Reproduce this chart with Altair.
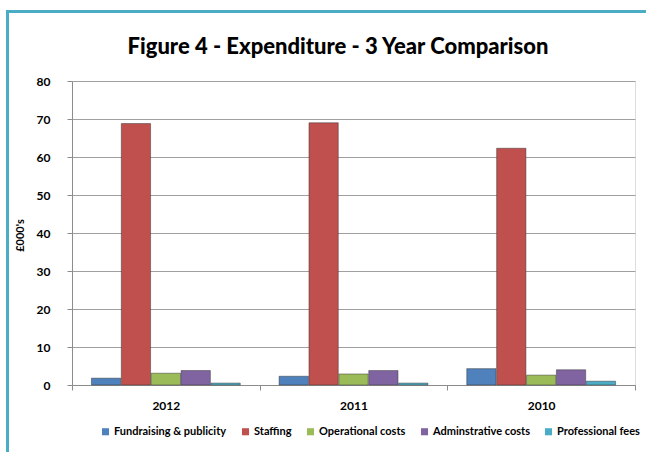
import altair as alt
import pandas as pd

years = ["2012", "2011", "2010"]
series = ["Fundraising & publicity", "Staffing", "Operational costs", "Adminstrative costs", "Professional fees"]
colors = ["#4F81BD", "#C0504D", "#9BBB59", "#8064A2", "#4BACC6"]
fundraising = [1.8, 2.3, 4.3]
staffing = [68.8, 69.0, 62.3]
operational = [3.1, 2.9, 2.6]
admin = [3.8, 3.8, 4.0]
professional = [0.5, 0.5, 1.0]
title_text = "Figure 4 - Expenditure - 3 Year Comparison"

rows = []
for s, vals in zip(series, [fundraising, staffing, operational, admin, professional]):
    for y, v in zip(years, vals):
        rows.append({"Year": y, "Series": s, "Value": v})
df = pd.DataFrame(rows)

FONT = "Lato"

bars = alt.Chart(df).mark_bar(strokeWidth=0.8, strokeOpacity=0.6, stroke="#333333").encode(
    x=alt.X("Year:N", sort=years,
            scale=alt.Scale(paddingInner=0, paddingOuter=0),
            axis=alt.Axis(title=None, labelAngle=0, tickBand="extent", tickSize=5,
                          labelFontWeight="bold", labelFontSize=12, labelFont=FONT,
                          labelColor="#000000", labelPadding=10,
                          domainColor="#8c8c8c", tickColor="#8c8c8c", grid=False)),
    xOffset=alt.XOffset("Series:N", sort=series,
                        scale=alt.Scale(paddingInner=0.02, paddingOuter=0.65)),
    y=alt.Y("Value:Q", scale=alt.Scale(domain=[0, 80]),
            axis=alt.Axis(values=list(range(0, 81, 10)), title="£000's",
                          titleFont=FONT, titleFontSize=11, titleFontWeight="bold",
                          titleX=-47, titleY=154, titleAngle=-90, titleColor="#000000",
                          labelFont=FONT, labelFontSize=12, labelFontWeight="bold",
                          labelColor="#000000", labelPadding=17, tickSize=5,
                          tickColor="#8c8c8c", domainColor="#8c8c8c",
                          gridColor="#a0a0a0", gridWidth=1)),
    color=alt.Color("Series:N", sort=series,
                    scale=alt.Scale(domain=series, range=colors),
                    legend=alt.Legend(title=None, orient="none", direction="horizontal",
                                      legendX=28, legendY=345, symbolType="square",
                                      symbolSize=50, symbolStrokeWidth=0,
                                      labelFont=FONT, labelFontSize=11,
                                      labelFontWeight="bold", labelColor="#000000",
                                      columnPadding=13, labelOffset=3)),
)

border = alt.Chart(pd.DataFrame({"k": [0]})).mark_rect(
    fill=None, stroke="#4BACC6", strokeWidth=3
).encode(x=alt.value(-64.5), x2=alt.value(620), y=alt.value(-69.5), y2=alt.value(420))

title = alt.Chart(pd.DataFrame({"t": [title_text]})).mark_text(
    font=FONT, fontSize=22, fontWeight=900, color="#000000",
    align="center", baseline="middle"
).encode(text="t:N", x=alt.value(266), y=alt.value(-34))

chart = alt.layer(border, title, bars).properties(
    width=563, height=304,
    autosize=alt.AutoSizeParams(type="none"),
    padding={"left": 72, "top": 81, "right": 11, "bottom": 67},
).configure_view(stroke=None).configure(background="#ffffff")

chart.save("out.html", embed_options={"renderer": "svg", "actions": False})
